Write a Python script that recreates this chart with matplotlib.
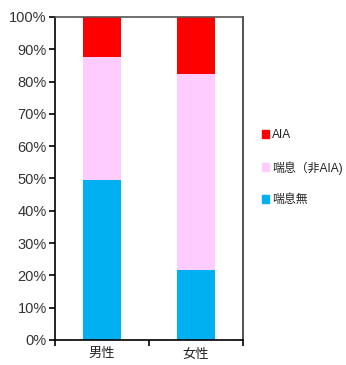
import matplotlib
matplotlib.use("Agg")
import matplotlib.pyplot as plt
from matplotlib.ticker import FuncFormatter, FixedLocator
from matplotlib.patches import Patch

plt.rcParams['font.family'] = ['Liberation Sans', 'Noto Sans CJK JP', 'DejaVu Sans']

categories = ["男性", "女性"]
series_names = ["喘息無", "喘息(非AIA)", "AIA"]
no_asthma = [49.5, 21.7]
asthma_non_aia = [38.2, 60.7]
aia = [12.3, 17.6]
colors = ["#00B0F0", "#FFCCFF", "#FF0000"]
legend_labels = ["AIA", "喘息（非AIA)", "喘息無"]

fig = plt.figure(figsize=(3.46, 3.65), dpi=100)
ax = fig.add_axes([0.159, 0.0685, 0.543, 0.885])

x = [1, 2]
bottom = [0.0, 0.0]
for vals, col in zip([no_asthma, asthma_non_aia, aia], colors):
    ax.bar(x, vals, width=0.4, bottom=bottom, color=col, edgecolor="none")
    bottom = [b + v for b, v in zip(bottom, vals)]

ax.set_xlim(0.5, 2.5)
ax.set_ylim(0, 100)
ax.set_yticks(range(0, 101, 10))
ax.yaxis.set_major_formatter(FuncFormatter(lambda v, p: f"{int(v)}%"))
ax.xaxis.set_major_locator(FixedLocator([0.5, 1.5, 2.5]))
ax.xaxis.set_major_formatter(FuncFormatter(lambda v, p: ""))
ax.xaxis.set_minor_locator(FixedLocator(x))
ax.set_xticklabels(categories, minor=True)
ax.tick_params(axis="x", which="minor", length=0, labelsize=9.5, pad=6,
               labelcolor="#222222")
ax.tick_params(axis="x", which="major", length=4, width=1.2, direction="out")
ax.tick_params(axis="y", length=4, width=1.2, direction="out", labelsize=10.5,
               colors="black", labelcolor="#333333", pad=2)
for s in ax.spines.values():
    s.set_linewidth(1.2)
ax.spines["top"].set_color("#555555")
ax.spines["right"].set_color("#333333")

handles = [Patch(color=colors[2]), Patch(color=colors[1]), Patch(color=colors[0])]
fig.legend(handles, legend_labels, loc="center left", bbox_to_anchor=(0.725, 0.54),
           frameon=False, fontsize=8.6, handlelength=0.65, handleheight=0.65,
           handletextpad=0.2, labelspacing=1.65, labelcolor="#222222")

fig.savefig("out.png", dpi=100)
